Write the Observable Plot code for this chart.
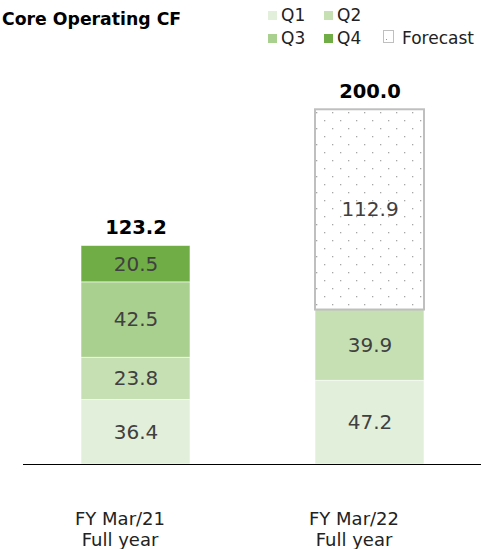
<!DOCTYPE html>
<html>
<head>
<meta charset="utf-8">
<script src="https://cdn.jsdelivr.net/npm/d3@7"></script>
<script src="https://cdn.jsdelivr.net/npm/@observablehq/plot@0.6"></script>
<style>
  body { margin: 0; background: #fff; font-family: "DejaVu Sans", Verdana, sans-serif; }
  #wrap { width: 481px; }
  #head { position: relative; height: 52px; }
  #title { position: absolute; left: 2px; top: 9px; font-size: 17.3px; font-weight: bold; line-height: 20px; color: #000; }
  .lg { position: absolute; font-size: 17px; line-height: 20px; color: #222; white-space: nowrap; }
  .sw { position: absolute; width: 9px; height: 9px; }
  .fsw { position: absolute; width: 11px; height: 13px; border: 1px solid #bfbfbf; box-sizing: border-box; background: #fff; }
  .fsw::after { content: ""; position: absolute; left: 2px; bottom: 2px; width: 1px; height: 1px; background: #999; }
</style>
</head>
<body>
<div id="wrap">
  <div id="head"></div>
  <div id="chart"></div>
</div>
<script>
// ---- data ----
const title = "Core Operating CF";
const categories = ["FY Mar/21", "FY Mar/22"];
const subLabel = "Full year";
const series = ["Q1", "Q2", "Q3", "Q4", "Forecast"];
const colors = ["#e2efda", "#c6e0b4", "#a9d08e", "#70ad47"];
const fy21 = [36.4, 23.8, 42.5, 20.5, null];
const fy22 = [47.2, 39.9, null, null, 112.9];
const totals = [123.2, 200.0];

// ---- build stacked table ----
const rows = [];
[fy21, fy22].forEach((vals, ci) => {
  let acc = 0;
  vals.forEach((v, si) => {
    if (v == null) return;
    rows.push({cat: categories[ci], q: series[si], value: v, y1: acc, y2: acc + v});
    acc += v;
  });
});
const totalRows = categories.map((c, i) => ({cat: c, total: totals[i]}));

// ---- header (title + legend) ----
const head = document.getElementById("head");
head.innerHTML = `<div id="title">${title}</div>`;
const legendPos = [
  {q: "Q1", x: 268, y: 5}, {q: "Q2", x: 324, y: 5},
  {q: "Q3", x: 268, y: 28}, {q: "Q4", x: 324, y: 28}
];
legendPos.forEach(p => {
  const i = series.indexOf(p.q);
  head.insertAdjacentHTML("beforeend",
    `<div class="sw" style="left:${p.x}px;top:${p.y + 6}px;background:${colors[i]}"></div>` +
    `<div class="lg" style="left:${p.x + 13}px;top:${p.y}px">${p.q}</div>`);
});
head.insertAdjacentHTML("beforeend",
  `<div class="fsw" style="left:383px;top:30px"></div><div class="lg" style="left:402px;top:28px">${series[4]}</div>`);

// ---- chart ----
const actual = rows.filter(d => d.q !== "Forecast");
const forecast = rows.filter(d => d.q === "Forecast");

const svg = Plot.plot({
  width: 481,
  height: 497,
  marginTop: 0,
  marginBottom: 85,
  marginLeft: 23,
  marginRight: 0,
  style: {fontFamily: "DejaVu Sans, Verdana, sans-serif", background: "#fff"},
  x: {domain: categories, paddingInner: 0.535, paddingOuter: 0.245, axis: null},
  y: {domain: [0, 232.3], axis: null},
  color: {domain: series.slice(0, 4), range: colors},
  marks: [
    Plot.barY(actual, {x: "cat", y1: "y1", y2: "y2", fill: "q", stroke: "#ffffff", strokeWidth: 0.8, strokeOpacity: 0.7}),
    Plot.barY(forecast, {x: "cat", y1: "y1", y2: "y2", fill: "url(#dots)", stroke: "#bfbfbf", strokeWidth: 2}),
    Plot.text(rows, {x: "cat", y: d => (d.y1 + d.y2) / 2, text: d => d.value.toFixed(1), fill: "#404040", fontSize: 20}),
    Plot.text(totalRows, {x: "cat", y: "total", text: d => d.total.toFixed(1), fill: "#000", fontSize: 19.5, fontWeight: "bold", lineAnchor: "bottom", dy: -12}),
    Plot.ruleY([0], {stroke: "#000", strokeWidth: 1.2, dx: 0}),
    Plot.text(categories, {x: d => d, frameAnchor: "bottom", text: d => d + "\n" + subLabel, lineAnchor: "middle", lineHeight: 1.17, dy: 64, dx: -16, fontSize: 18, fill: "#222"})
  ]
});

const NS = "http://www.w3.org/2000/svg";
const defs = document.createElementNS(NS, "defs");
defs.innerHTML = `<pattern id="dots" patternUnits="userSpaceOnUse" width="16" height="16">
  <rect width="16" height="16" fill="#fff"/>
  <rect x="4" y="4" width="1.3" height="1.3" fill="#a6a6a6"/>
  <rect x="12" y="12" width="1.3" height="1.3" fill="#a6a6a6"/>
</pattern>`;
svg.insertBefore(defs, svg.firstChild);
document.getElementById("chart").appendChild(svg);
</script>
</body>
</html>
